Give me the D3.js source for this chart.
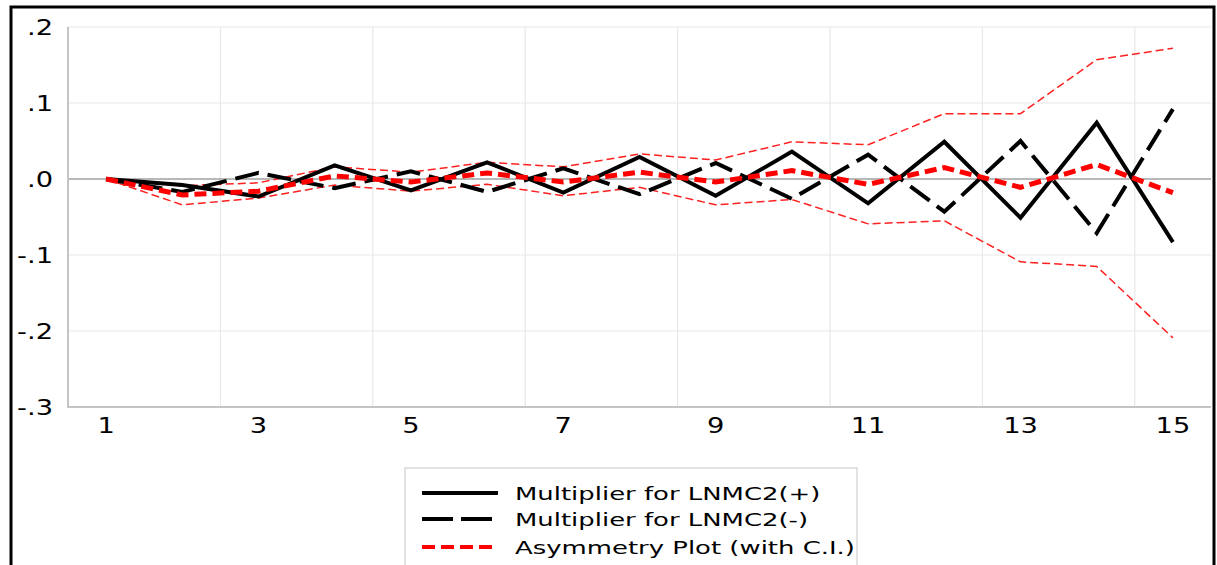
<!DOCTYPE html>
<html>
<head>
<meta charset="utf-8">
<script src="https://cdn.jsdelivr.net/npm/d3@7"></script>
<style>
  body { margin: 0; background: #fff; }
  text { font-family: "DejaVu Sans", Verdana, sans-serif; fill: #000; }
</style>
</head>
<body>
<svg></svg>
<script>
var periods = d3.range(1, 16);
var xTickLabels = [1, 3, 5, 7, 9, 11, 13, 15];
var yTickValues = [0.2, 0.1, 0, -0.1, -0.2, -0.3];
var yTickLabels = [".2", ".1", ".0", "-.1", "-.2", "-.3"];

var plusValues  = [0, -0.008, -0.023, 0.018, -0.015, 0.022, -0.018, 0.029, -0.022, 0.036, -0.032, 0.049, -0.051, 0.074, -0.083];
var minusValues = [0, -0.017, 0.008, -0.012, 0.010, -0.017, 0.014, -0.020, 0.021, -0.026, 0.032, -0.043, 0.050, -0.071, 0.092];
var asymValues  = [0, -0.021, -0.016, 0.004, -0.004, 0.008, -0.004, 0.009, -0.004, 0.011, -0.007, 0.015, -0.011, 0.019, -0.018];
var upperCI     = [0, -0.009, -0.005, 0.016, 0.009, 0.022, 0.016, 0.033, 0.025, 0.049, 0.045, 0.086, 0.086, 0.157, 0.172];
var lowerCI     = [0, -0.034, -0.025, -0.008, -0.016, -0.007, -0.022, -0.011, -0.034, -0.027, -0.059, -0.055, -0.109, -0.115, -0.209];

var legendLabels = ["Multiplier for LNMC2(+)", "Multiplier for LNMC2(-)", "Asymmetry Plot (with C.I.)"];

var width = 1217, height = 565;
var svg = d3.select("svg").attr("width", width).attr("height", height);

var x = d3.scaleLinear().domain([0.5, 15.5]).range([68, 1211]);
var y = d3.scaleLinear().domain([-0.3, 0.2]).range([407, 27]);

// outer frame
svg.append("rect")
  .attr("x", 11).attr("y", 7)
  .attr("width", 1203).attr("height", 600)
  .attr("fill", "none").attr("stroke", "#000").attr("stroke-width", 3);

// grid
var grid = svg.append("g");
grid.selectAll(".hg")
  .data(yTickValues.filter(function(d) { return d !== 0 && d !== -0.3; }))
  .enter().append("line")
  .attr("x1", x.range()[0]).attr("x2", x.range()[1])
  .attr("y1", function(d) { return y(d); }).attr("y2", function(d) { return y(d); })
  .attr("stroke", "#e8e8e8").attr("stroke-width", 1.2);
grid.selectAll(".vg")
  .data(d3.range(2.5, 15, 2))
  .enter().append("line")
  .attr("x1", function(d) { return x(d); }).attr("x2", function(d) { return x(d); })
  .attr("y1", y(0.2)).attr("y2", y(-0.3))
  .attr("stroke", "#e8e8e8").attr("stroke-width", 1.2);

// zero line
svg.append("line")
  .attr("x1", x.range()[0]).attr("x2", x.range()[1])
  .attr("y1", y(0)).attr("y2", y(0))
  .attr("stroke", "#a0a0a0").attr("stroke-width", 1.3);

// axes lines
svg.append("path")
  .attr("d", "M" + x.range()[0] + "," + y(0.2) + "V" + y(-0.3) + "H" + x.range()[1])
  .attr("fill", "none").attr("stroke", "#c4c4c4").attr("stroke-width", 2);

// tick labels
var yLab = svg.append("g");
yTickValues.forEach(function(v, i) {
  yLab.append("text")
    .attr("transform", "translate(53," + (y(v) + 7.5) + ") scale(1.3,1)")
    .attr("text-anchor", "end")
    .attr("font-size", 21)
    .text(yTickLabels[i]);
});
var xLab = svg.append("g");
xTickLabels.forEach(function(v) {
  xLab.append("text")
    .attr("transform", "translate(" + x(v) + ",433) scale(1.3,1)")
    .attr("text-anchor", "middle")
    .attr("font-size", 21)
    .text(v);
});

var line = d3.line()
  .x(function(d, i) { return x(periods[i]); })
  .y(function(d) { return y(d); });

var series = [
  { values: upperCI, color: "#ff2020", w: 1.5, dash: "8,4" },
  { values: lowerCI, color: "#ff2020", w: 1.5, dash: "8,4" },
  { values: minusValues, color: "#000", w: 4, dash: "24,9" },
  { values: plusValues, color: "#000", w: 4, dash: null },
  { values: asymValues, color: "#ff0000", w: 5, dash: "12,6" }
];

svg.selectAll(".series")
  .data(series)
  .enter().append("path")
  .attr("class", "series")
  .attr("d", function(d) { return line(d.values); })
  .attr("fill", "none")
  .attr("stroke", function(d) { return d.color; })
  .attr("stroke-width", function(d) { return d.w; })
  .attr("stroke-dasharray", function(d) { return d.dash; })
  .attr("stroke-linejoin", "miter");

// legend
var leg = svg.append("g");
leg.append("rect")
  .attr("x", 405).attr("y", 468)
  .attr("width", 452).attr("height", 120)
  .attr("fill", "#fff").attr("stroke", "#d0d0d0").attr("stroke-width", 1.2);

var legStyles = [
  { color: "#000", w: 4, dash: null },
  { color: "#000", w: 4, dash: "31,8" },
  { color: "#ff0000", w: 4, dash: "13,6" }
];
var legY = [493, 519, 547];
legendLabels.forEach(function(t, i) {
  leg.append("line")
    .attr("x1", 422).attr("x2", 498)
    .attr("y1", legY[i]).attr("y2", legY[i])
    .attr("stroke", legStyles[i].color)
    .attr("stroke-width", legStyles[i].w)
    .attr("stroke-dasharray", legStyles[i].dash);
  leg.append("text")
    .attr("transform", "translate(515," + (legY[i] + 6.5) + ") scale(1.44,1)")
    .attr("font-size", 18)
    .text(t);
});
</script>
</body>
</html>
